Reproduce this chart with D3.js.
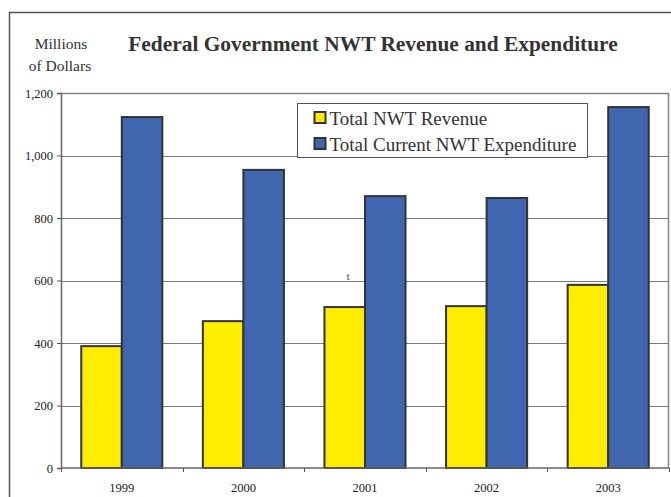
<!DOCTYPE html>
<html>
<head>
<meta charset="utf-8">
<script src="https://cdn.jsdelivr.net/npm/d3@7"></script>
<style>
  html, body { margin: 0; padding: 0; background: #fff; }
  svg { display: block; }
  text { font-family: "Liberation Serif", "Times New Roman", serif; }
</style>
</head>
<body>
<svg id="chart" width="671" height="497"></svg>
<script>
// Fiscal years shown on the x axis
const years = ["1999", "2000", "2001", "2002", "2003"];
// Millions of dollars
const revenue = [390, 470, 515, 518, 586];
const expenditure = [1123, 954, 870, 864, 1155];
const seriesNames = ["Total NWT Revenue", "Total Current NWT Expenditure"];
const seriesColors = ["#FFED00", "#3F66AF"];
const yTicks = [0, 200, 400, 600, 800, 1000, 1200];

const svg = d3.select("#chart");
const margin = { left: 61, right: 2, top: 93, bottom: 29 };
const W = 671, H = 497;
const x0 = margin.left, x1 = W - margin.right;
const yTop = margin.top, yBot = H - margin.bottom;

// Outer frame (top and left edges)
svg.append("path")
  .attr("d", `M9.5,${H} V12.5 H${W}`)
  .attr("fill", "none").attr("stroke", "#555").attr("stroke-width", 1.5);

const x = d3.scaleBand().domain(years).range([x0, x1]).paddingInner(0).paddingOuter(0);
const xs = d3.scaleBand().domain([0, 1]).range([0, x.bandwidth()]).paddingInner(0).paddingOuter(0.5);
const y = d3.scaleLinear().domain([0, 1200]).range([yBot, yTop]);

// Horizontal gridlines
svg.append("g").selectAll("line").data(yTicks.filter(d => d > 0)).join("line")
  .attr("x1", x0).attr("x2", x1)
  .attr("y1", d => Math.round(y(d)) + 0.5).attr("y2", d => Math.round(y(d)) + 0.5)
  .attr("stroke", d => d === 1200 ? "#8c8282" : "#7a7a7a").attr("stroke-width", d => d === 1200 ? 1.5 : 1);

// Right border of plot area
svg.append("line")
  .attr("x1", x1 - 0.5).attr("x2", x1 - 0.5).attr("y1", yTop).attr("y2", yBot)
  .attr("stroke", "#8c8282").attr("stroke-width", 1.5);

// Bars
const groups = svg.append("g").selectAll("g").data(years).join("g")
  .attr("transform", d => `translate(${x(d)},0)`);
[revenue, expenditure].forEach((vals, si) => {
  groups.append("rect")
    .attr("x", xs(si))
    .attr("width", xs.bandwidth())
    .attr("y", (d, i) => y(vals[i]))
    .attr("height", (d, i) => yBot - y(vals[i]))
    .attr("fill", seriesColors[si])
    .attr("stroke", "#333").attr("stroke-width", 2);
});

// Y axis
const yAxis = d3.axisLeft(y).tickValues(yTicks).tickSize(4).tickPadding(4)
  .tickFormat(d3.format(","));
const gy = svg.append("g").attr("transform", `translate(${x0},0)`).call(yAxis);
gy.select(".domain").attr("stroke", "#6b6262").attr("stroke-width", 1.5);
gy.selectAll(".tick line").attr("stroke", "#555");
gy.selectAll("text").attr("font-size", 12.5).attr("fill", "#222")
  .style("font-family", "'Liberation Serif', serif");

// X axis: ticks at category boundaries, labels centred in each band
const gx = svg.append("g").attr("transform", `translate(0,${yBot})`);
gx.append("line").attr("x1", x0).attr("x2", x1).attr("y1", 0).attr("y2", 0)
  .attr("stroke", "#6b6262").attr("stroke-width", 1.5);
gx.selectAll("line.tk").data(years.concat(["end"])).join("line").attr("class", "tk")
  .attr("x1", (d, i) => Math.round(x0 + i * x.bandwidth()) + 0.5)
  .attr("x2", (d, i) => Math.round(x0 + i * x.bandwidth()) + 0.5)
  .attr("y1", 0).attr("y2", 4).attr("stroke", "#555");
gx.selectAll("text").data(years).join("text")
  .attr("x", d => x(d) + x.bandwidth() / 2).attr("y", 24)
  .attr("text-anchor", "middle").attr("font-size", 12.5).attr("fill", "#222")
  .text(d => d);

// Titles
svg.append("text").attr("x", 373).attr("y", 51).attr("text-anchor", "middle")
  .attr("font-size", 21.4).attr("font-weight", "bold").attr("fill", "#333")
  .text("Federal Government NWT Revenue and Expenditure");
svg.append("text").attr("x", 61).attr("y", 49).attr("text-anchor", "middle")
  .attr("font-size", 15.5).attr("fill", "#333").text("Millions");
svg.append("text").attr("x", 60).attr("y", 71).attr("text-anchor", "middle")
  .attr("font-size", 15.5).attr("fill", "#333").text("of Dollars");

// Stray annotation mark
svg.append("text").attr("x", 348).attr("y", 280).attr("text-anchor", "middle")
  .attr("font-size", 9).attr("fill", "#333").style("font-family", "'Liberation Sans', sans-serif")
  .text("t");

// Legend
const lg = svg.append("g").attr("transform", "translate(297.5,103.5)");
lg.append("rect").attr("width", 290).attr("height", 54)
  .attr("fill", "#fff").attr("stroke", "#555").attr("stroke-width", 1);
seriesNames.forEach((name, i) => {
  lg.append("rect").attr("x", 17).attr("y", 8.5 + i * 26).attr("width", 11).attr("height", 11)
    .attr("fill", seriesColors[i]).attr("stroke", "#333").attr("stroke-width", 2);
  lg.append("text").attr("x", 32).attr("y", 21.5 + i * 26)
    .attr("font-size", 19).attr("fill", "#333").text(name);
});
</script>
</body>
</html>
